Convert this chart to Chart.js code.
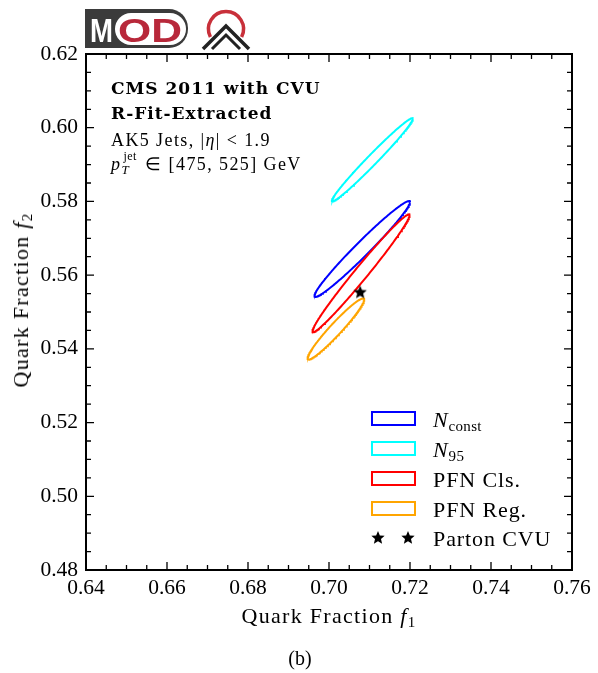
<!DOCTYPE html>
<html lang="en">
  <head>
    <meta charset="UTF-8" />
    <title>Quark fractions</title>
    <script src="https://cdn.jsdelivr.net/npm/chart.js@4"></script>
    <style>
      body { margin: 0; background: #fff; }
      #wrap { position: relative; width: 598px; height: 673px; }
      #myChart { position: absolute; left: 0; top: 0; }
      .txt { position: absolute; white-space: nowrap; font-family: "Liberation Serif", serif; color: #000; }
      .bold { font-family: "DejaVu Serif", serif; font-weight: bold; font-size: 17px; line-height: 17px; letter-spacing: 1px; }
      .note { font-size: 18px; line-height: 18px; letter-spacing: 1.4px; }
      .ss { display: inline-block; position: relative; width: 18px; height: 1px; }
      .sj { position: absolute; left: 2px; top: -19px; font-size: 12px; line-height: 12px; letter-spacing: 0.5px; }
      .st { position: absolute; left: 0; top: -6px; font-size: 13px; line-height: 13px; }
      .lbox { position: absolute; width: 41px; height: 11px; border: 2px solid; background: #fff; }
      .lab { font-size: 22px; line-height: 22px; letter-spacing: 0.9px; }
      .lab sub { font-size: 15px; vertical-align: -4px; line-height: 0; letter-spacing: 0.3px; }
      .axt { font-size: 22px; line-height: 22px; letter-spacing: 1.3px; }
      .axt sub { font-size: 15px; vertical-align: -4px; line-height: 0; }
    </style>
  </head>
  <body>
    <div id="wrap">
      <canvas id="myChart" width="598" height="673"></canvas>

      <svg width="598" height="60" style="position:absolute;left:0;top:0">
        <rect x="85" y="9" width="103" height="39" rx="19" fill="#3b3b3b" />
        <rect x="85" y="9" width="40" height="39" fill="#3b3b3b" />
        <rect x="115" y="13" width="71" height="32" rx="16" fill="#fff" />
        <text x="90" y="42" font-family="Liberation Sans" font-weight="bold" font-size="33" fill="#fff" textLength="23" lengthAdjust="spacingAndGlyphs">M</text>
        <text x="118" y="42" font-family="Liberation Sans" font-weight="bold" font-size="33" fill="#b8283a" textLength="64" lengthAdjust="spacingAndGlyphs">OD</text>
        <path d="M210.4 37 A17.5 17.5 0 1 1 241.6 37" fill="none" stroke="#c8303a" stroke-width="3.5" />
        <polyline points="203,49 226,26 249,49" fill="none" stroke="#222" stroke-width="3.5" />
        <polyline points="212,49 226,35 240,49" fill="none" stroke="#222" stroke-width="3" />
      </svg>

      <div class="txt bold" style="left:111px;top:80px">CMS 2011 with CVU</div>
      <div class="txt bold" style="left:111px;top:105px">R-Fit-Extracted</div>
      <div class="txt note" style="left:111px;top:131px">AK5 Jets, |<i>η</i>| &lt; 1.9</div>
      <div class="txt note" style="left:111px;top:155px"><i>p</i><span class="ss"><span class="sj">jet</span><i class="st">T</i></span> ∈ [475, 525] GeV</div>

      <div id="legend"></div>

      <div class="txt axt" id="xTitle" style="left:0;top:605px;width:658px;text-align:center">Quark Fraction <i>f</i><sub>1</sub></div>
      <div class="txt axt" id="yTitle" style="left:21px;top:300px;transform:translate(-50%,-50%) rotate(-90deg)">Quark Fraction <i>f</i><sub>2</sub></div>
      <div class="txt" style="left:0;top:648px;width:600px;text-align:center;font-size:20px;line-height:20px">(b)</div>
    </div>

    <script>
      // fitted quark fractions: means, widths and correlation of each method
      const methods = ["N_const", "N_95", "PFN Cls.", "PFN Reg."];
      const legendLabels = [
        "<i>N</i><sub>const</sub>",
        "<i>N</i><sub>95</sub>",
        "PFN Cls.",
        "PFN Reg.",
      ];
      const colors = ["#0000ff", "#00ffff", "#ff0000", "#ffa500"];
      const meanF1 = [0.7082, 0.7107, 0.7079, 0.7017];
      const meanF2 = [0.5671, 0.5913, 0.5605, 0.5454];
      const sigmaF1 = [0.0118, 0.01, 0.012, 0.007];
      const sigmaF2 = [0.013, 0.0113, 0.016, 0.0083];
      const rho = [0.978, 0.985, 0.985, 0.96];

      // parton level truth
      const partonF1 = [0.7077];
      const partonF2 = [0.5553];

      const xTicks = [0.64, 0.66, 0.68, 0.7, 0.72, 0.74, 0.76];
      const yTicks = [0.48, 0.5, 0.52, 0.54, 0.56, 0.58, 0.6, 0.62];

      // closed contour of the 1-sigma ellipse
      const contour = function (i) {
        const pts = [];
        const n = 240;
        for (let k = 0; k <= n; k++) {
          const t = (2 * Math.PI * k) / n;
          pts.push({
            x: meanF1[i] + sigmaF1[i] * Math.cos(t),
            y:
              meanF2[i] +
              sigmaF2[i] * (rho[i] * Math.cos(t) + Math.sqrt(1 - rho[i] * rho[i]) * Math.sin(t)),
          });
        }
        return pts;
      };

      const starImage = function (r) {
        const c = document.createElement("canvas");
        c.width = c.height = 2 * r + 2;
        const g = c.getContext("2d");
        g.beginPath();
        for (let k = 0; k < 10; k++) {
          const a = -Math.PI / 2 + (k * Math.PI) / 5;
          const rr = k % 2 ? r * 0.45 : r;
          g.lineTo(r + 1 + rr * Math.cos(a), r + 1 + rr * Math.sin(a));
        }
        g.closePath();
        g.fillStyle = "#000";
        g.fill();
        return c;
      };
      const star = starImage(7);

      // inward ticks on all four sides plus the frame
      const frameTicks = {
        id: "frameTicks",
        afterDraw(chart) {
          const { ctx, chartArea: a, scales } = chart;
          ctx.save();
          ctx.strokeStyle = "#000";
          ctx.lineWidth = 1.3;
          const minor = 0.005;
          for (let k = 0; k <= 24; k++) {
            const v = 0.64 + k * minor;
            const px = scales.x.getPixelForValue(v);
            const len = k % 4 === 0 ? 8 : 5;
            ctx.beginPath();
            ctx.moveTo(px, a.bottom);
            ctx.lineTo(px, a.bottom - len);
            ctx.moveTo(px, a.top);
            ctx.lineTo(px, a.top + len);
            ctx.stroke();
          }
          for (let k = 0; k <= 28; k++) {
            const v = 0.48 + k * minor;
            const py = scales.y.getPixelForValue(v);
            const len = k % 4 === 0 ? 8 : 5;
            ctx.beginPath();
            ctx.moveTo(a.left, py);
            ctx.lineTo(a.left + len, py);
            ctx.moveTo(a.right, py);
            ctx.lineTo(a.right - len, py);
            ctx.stroke();
          }
          ctx.lineWidth = 2;
          ctx.strokeRect(a.left, a.top, a.right - a.left, a.bottom - a.top);
          ctx.restore();
        },
      };

      const datasets = methods.map(function (name, i) {
        return {
          label: name,
          data: contour(i),
          showLine: true,
          borderColor: colors[i],
          borderWidth: 2,
          pointRadius: 0,
          fill: false,
          order: 4 - i,
        };
      });
      datasets.push({
        label: "Parton CVU",
        data: partonF1.map((x, i) => ({ x: x, y: partonF2[i] })),
        pointStyle: star,
        pointRadius: 8,
        order: 0,
      });

      const tickFont = { family: "'Liberation Serif', serif", size: 21.5 };

      new Chart(document.getElementById("myChart"), {
        type: "scatter",
        data: { datasets: datasets },
        options: {
          responsive: false,
          animation: false,
          devicePixelRatio: 1,
          layout: { padding: { left: 0, top: 54, right: 26, bottom: 0 } },
          plugins: { legend: { display: false }, tooltip: { enabled: false } },
          scales: {
            x: {
              type: "linear",
              min: 0.64,
              max: 0.76,
              afterFit: (s) => { s.height = 103; },
              afterBuildTicks: (s) => { s.ticks = xTicks.map((v) => ({ value: v })); },
              ticks: { callback: (v) => v.toFixed(2), font: tickFont, color: "#000", padding: 5, maxRotation: 0, autoSkip: false },
              grid: { display: false, drawTicks: false },
              border: { display: false },
            },
            y: {
              type: "linear",
              min: 0.48,
              max: 0.62,
              afterFit: (s) => { s.width = 86; },
              afterBuildTicks: (s) => { s.ticks = yTicks.map((v) => ({ value: v })); },
              ticks: { callback: (v) => v.toFixed(2), font: tickFont, color: "#000", padding: 8, autoSkip: false },
              grid: { display: false, drawTicks: false },
              border: { display: false },
            },
          },
        },
        plugins: [frameTicks],
      });

      // legend: outlined boxes for the ellipses, two stars for the parton point
      const legend = document.getElementById("legend");
      let html = "";
      legendLabels.forEach(function (lab, i) {
        const top = 411 + 30 * i;
        html += '<div class="lbox" style="left:371px;top:' + top + "px;border-color:" + colors[i] + '"></div>';
        html += '<div class="txt lab" style="left:433px;top:' + (top - 2) + 'px">' + lab + "</div>";
      });
      const src = star.toDataURL();
      html += '<img src="' + src + '" style="position:absolute;left:370px;top:530px">';
      html += '<img src="' + src + '" style="position:absolute;left:400px;top:530px">';
      html += '<div class="txt lab" style="left:433px;top:528px">Parton CVU</div>';
      legend.innerHTML = html;
    </script>
  </body>
</html>
